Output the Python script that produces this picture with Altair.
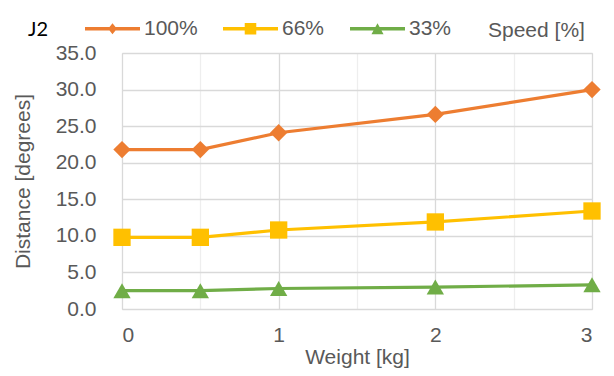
import altair as alt
import pandas as pd

weights = [0, 0.5, 1, 2, 3]
speed_100 = [21.8, 21.8, 24.1, 26.6, 30.0]
speed_66 = [9.8, 9.8, 10.8, 11.9, 13.4]
speed_33 = [2.5, 2.5, 2.8, 3.0, 3.3]
series_names = ["100%", "66%", "33%"]
series_colors = ["#ED7D31", "#FFC000", "#70AD47"]
series_shapes = ["diamond", "square", "triangle-up"]
y_ticks = [0, 5, 10, 15, 20, 25, 30, 35]
x_grid = [0, 0.5, 1, 1.5, 2, 2.5, 3]

rows = []
for name, vals in zip(series_names, [speed_100, speed_66, speed_33]):
    for w, v in zip(weights, vals):
        rows.append({"Weight": w, "Distance": v, "Speed": name})
df = pd.DataFrame(rows)

TXT = "#595959"
FONT = "Liberation Sans"

# legend symbols: line segment with the marker in the middle (unit square -1..1)
bar = "M-1,-0.06L1,-0.06L1,0.06L-1,0.06Z"
legend_shapes = [
    bar + "M0,-0.2L0.16,0L0,0.2L-0.16,0Z",
    bar + "M-0.21,-0.21L0.21,-0.21L0.21,0.21L-0.21,0.21Z",
    bar + "M0,-0.2L0.22,0.2L-0.22,0.2Z",
]

x_enc = alt.X(
    "Weight:Q",
    scale=alt.Scale(domain=[0, 3], nice=False, zero=False),
    axis=alt.Axis(
        values=x_grid,
        labelExpr="datum.value % 1 === 0 ? format(datum.value, 'd') : ''",
        title="Weight [kg]",
        grid=True,
        gridColor=alt.condition("datum.value % 1 === 0", alt.value("#D9D9D9"), alt.value("#EEEEEE")),
        gridWidth=1.3,
        domain=False,
        ticks=False,
        tickSize=0,
        labelPadding=15,
        titlePadding=1,
        labelFont=FONT, labelFontSize=21, labelColor=TXT,
        titleFont=FONT, titleFontSize=21, titleColor=TXT, titleFontWeight="normal",
    ),
)
y_enc = alt.Y(
    "Distance:Q",
    scale=alt.Scale(domain=[0, 35], nice=False),
    axis=alt.Axis(
        values=y_ticks,
        format=".1f",
        title="Distance [degrees]",
        grid=True,
        gridColor="#D9D9D9",
        gridWidth=1.3,
        domain=False,
        ticks=False,
        tickSize=0,
        labelPadding=26,
        titlePadding=22,
        labelFont=FONT, labelFontSize=21, labelColor=TXT,
        titleFont=FONT, titleFontSize=21, titleColor=TXT, titleFontWeight="normal",
    ),
)
color_scale = alt.Scale(domain=series_names, range=series_colors)


def make_legend():
    return alt.Legend(
        title="Speed [%]",
        orient="none",
        legendX=-37,
        legendY=-52,
        direction="horizontal",
        columnPadding=25,
        labelOffset=4,
        padding=0,
        symbolSize=3025,
        symbolStrokeWidth=0,
        symbolOpacity=1,
        labelFont=FONT, labelFontSize=21, labelColor=TXT, labelLimit=0,
        titleFont=FONT, titleFontSize=21, titleColor=TXT, titleFontWeight="normal",
        titleOrient="right",
        titlePadding=37,
        titleBaseline="top",
        titleAnchor="middle",
    )


lines = alt.Chart(df).mark_line(strokeWidth=3.2).encode(
    x=x_enc,
    y=y_enc,
    color=alt.Color("Speed:N", scale=color_scale, legend=None),
)

points = alt.Chart(df).mark_point(filled=True, size=300, opacity=1).encode(
    x=x_enc,
    y=y_enc,
    color=alt.Color("Speed:N", scale=color_scale, legend=None),
    shape=alt.Shape(
        "Speed:N",
        scale=alt.Scale(domain=series_names, range=series_shapes),
        legend=None,
    ),
)

legend_layer = (
    alt.Chart(df)
    .transform_filter("datum.Weight < 0")
    .mark_point(filled=True, size=3025, opacity=1)
    .encode(
        x=x_enc,
        y=y_enc,
        color=alt.Color("Speed:N", scale=color_scale, legend=make_legend()),
        shape=alt.Shape(
            "Speed:N",
            scale=alt.Scale(domain=series_names, range=legend_shapes),
            legend=make_legend(),
        ),
    )
)

chart = (
    alt.layer(lines, points, legend_layer)
    .resolve_scale(color="independent", shape="independent")
    .properties(
        width=470,
        height=256,
        padding={"left": 114, "top": 45, "right": 14, "bottom": 59},
        autosize=alt.AutoSizeParams(type="none"),
        title=alt.TitleParams(
            text="J2",
            anchor="start",
            frame="group",
            font="Lato",
            fontSize=20,
            fontWeight="normal",
            color="#000000",
            dx=-94,
            dy=43,
        ),
    )
    .configure_view(stroke=None)
    .configure(background="white")
)

chart.save("out.html", embed_options={"renderer": "svg", "actions": False})
